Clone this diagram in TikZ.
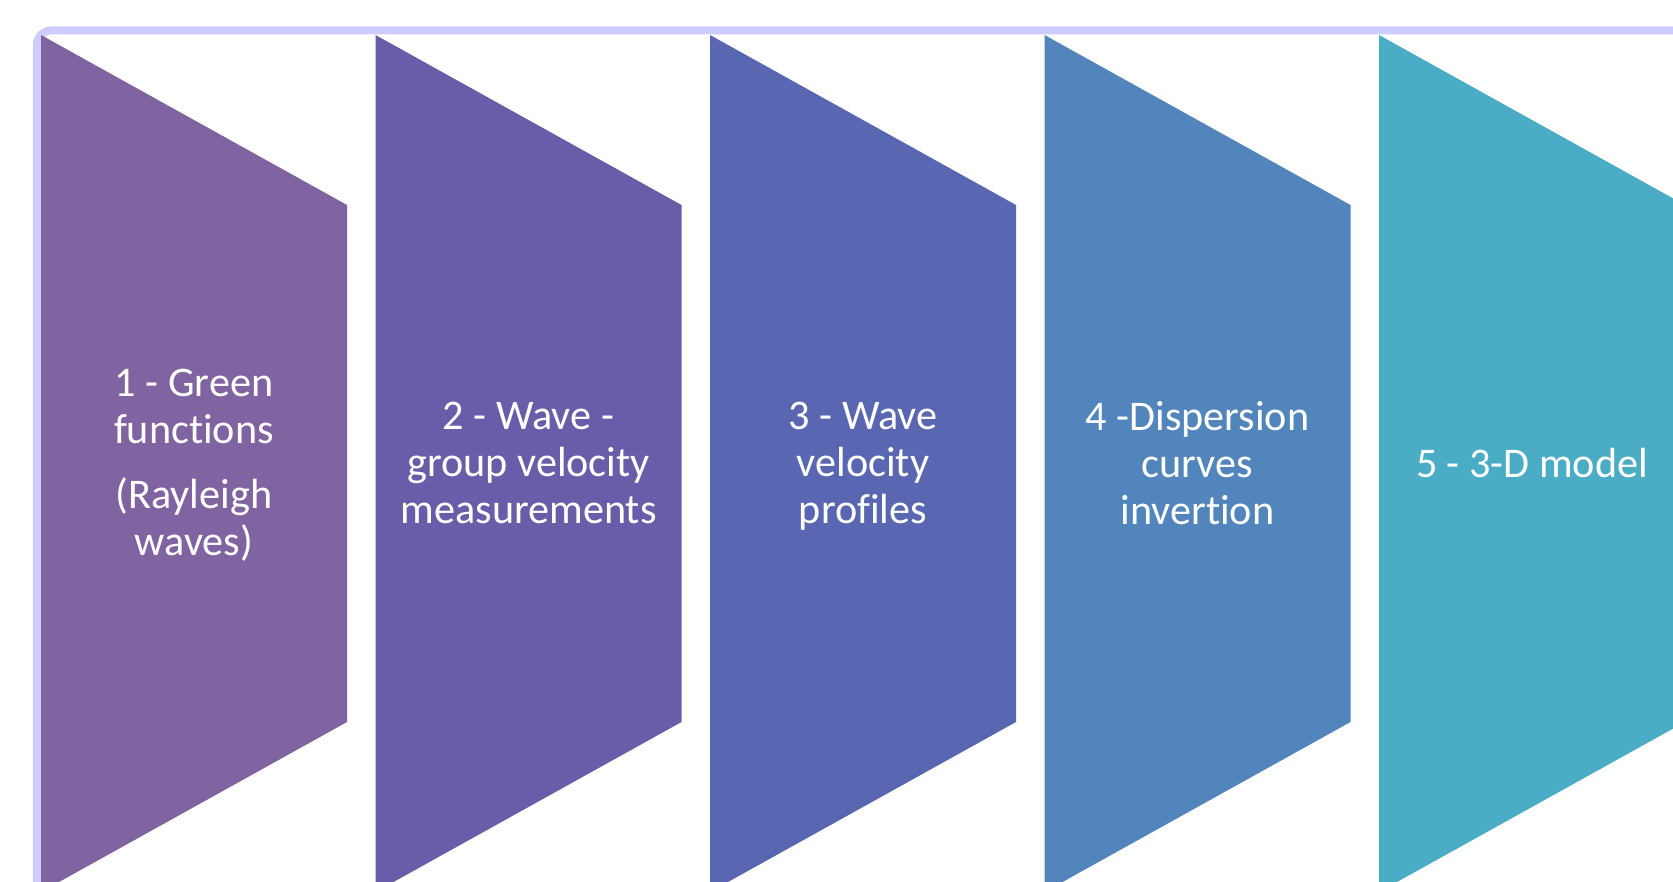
\documentclass[tikz,border=0pt]{standalone}
\usepackage{fontspec}
\setmainfont{Carlito}[Ligatures=NoCommon]
\definecolor{frameblue}{HTML}{CCCCFF}
\definecolor{stepA}{HTML}{8064A2}
\definecolor{stepB}{HTML}{675DA8}
\definecolor{stepC}{HTML}{5967B2}
\definecolor{stepD}{HTML}{5185BC}
\definecolor{stepE}{HTML}{4BACC6}
\tikzset{
	steplabel/.style={text=white, align=center, font=\fontsize{12}{13.4}\selectfont, inner sep=0pt}
}
\begin{document}
\begin{tikzpicture}[x=0.01cm, y=-0.01cm]
		\useasboundingbox (0,0) rectangle (1673,882);
		\clip (0,0) rectangle (1673,882);
		
		\draw[frameblue, line width=0.08cm, rounded corners=4] (37,950) -- (37,30.5) -- (1750,30.5);
		
		\fill[stepA] (41,35) -- (347,205) -- (347,722) -- (41,892) -- cycle;
		\fill[stepB] (375.5,35) -- (681.5,205) -- (681.5,722) -- (375.5,892) -- cycle;
		\fill[stepC] (710,35) -- (1016,205) -- (1016,722) -- (710,892) -- cycle;
		\fill[stepD] (1044.5,35) -- (1350.5,205) -- (1350.5,722) -- (1044.5,892) -- cycle;
		\fill[stepE] (1379,35) -- (1685,205) -- (1685,722) -- (1379,892) -- cycle;
		
		\node[steplabel] (green) at (194,465) {1 - Green\\functions\\[5pt](Rayleigh\\waves)};
		\node[steplabel] (group) at (528.5,463) {2 - Wave -\\group velocity\\measurements};
		\node[steplabel] (profiles) at (863,466) {3 - Wave\\velocity\\profiles};
		\node[steplabel] (invert) at (1197.5,463) {4 -Dispersion\\curves\\invertion};
		\node[steplabel] (model) at (1532,463) {5 - 3-D model};
		\end{tikzpicture}
\end{document}
